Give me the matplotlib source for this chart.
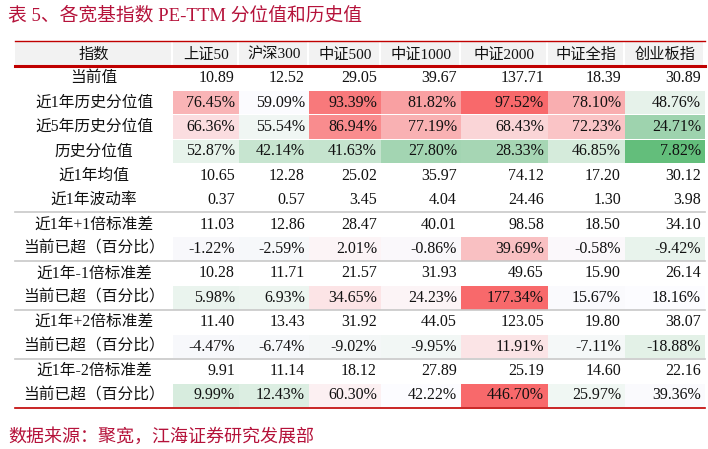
import matplotlib
matplotlib.use("Agg")
import matplotlib.pyplot as plt
from matplotlib.patches import Rectangle

title = "表 5、各宽基指数 PE-TTM 分位值和历史值"
source = "数据来源：聚宽，江海证券研究发展部"
columns = ["指数", "上证50", "沪深300", "中证500", "中证1000", "中证2000", "中证全指", "创业板指"]
row_labels = ["当前值", "近1年历史分位值", "近5年历史分位值", "历史分位值", "近1年均值", "近1年波动率",
              "近1年+1倍标准差", "当前已超（百分比）", "近1年-1倍标准差", "当前已超（百分比）",
              "近1年+2倍标准差", "当前已超（百分比）", "近1年-2倍标准差", "当前已超（百分比）"]
current = [10.89, 12.52, 29.05, 39.67, 137.71, 18.39, 30.89]
pct_1y = [76.45, 59.09, 93.39, 81.82, 97.52, 78.10, 48.76]
pct_5y = [66.36, 55.54, 86.94, 77.19, 68.43, 72.23, 24.71]
pct_all = [52.87, 42.14, 41.63, 27.80, 28.33, 46.85, 7.82]
mean_1y = [10.65, 12.28, 25.02, 35.97, 74.12, 17.20, 30.12]
vol_1y = [0.37, 0.57, 3.45, 4.04, 24.46, 1.30, 3.98]
plus1 = [11.03, 12.86, 28.47, 40.01, 98.58, 18.50, 34.10]
over_plus1 = [-1.22, -2.59, 2.01, -0.86, 39.69, -0.58, -9.42]
minus1 = [10.28, 11.71, 21.57, 31.93, 49.65, 15.90, 26.14]
over_minus1 = [5.98, 6.93, 34.65, 24.23, 177.34, 15.67, 18.16]
plus2 = [11.40, 13.43, 31.92, 44.05, 123.05, 19.80, 38.07]
over_plus2 = [-4.47, -6.74, -9.02, -9.95, 11.91, -7.11, -18.88]
minus2 = [9.91, 11.14, 18.12, 27.89, 25.19, 14.60, 22.16]
over_minus2 = [9.99, 12.43, 60.30, 42.22, 446.70, 25.97, 39.36]

rows = [current, pct_1y, pct_5y, pct_all, mean_1y, vol_1y, plus1, over_plus1,
        minus1, over_minus1, plus2, over_plus2, minus2, over_minus2]
is_pct = [False, True, True, True, False, False, False, True, False, True, False, True, False, True]

W = "#FFFFFF"
cell_colors = [
    [W]*7,
    ["#F9B4B6", "#FBFBFE", "#F8797B", "#F9A0A2", "#F8696B", "#F9AEB0", "#E6F2EA"],
    ["#FBDDE0", "#F0F6F3", "#F98C8E", "#F9B1B3", "#FAD5D7", "#FAC4C6", "#9ED3AE"],
    ["#E7F3EB", "#C7E5D0", "#C5E4CE", "#A3D5B2", "#A6D6B4", "#D5EBDB", "#63BE7B"],
    [W]*7, [W]*7, [W]*7,
    ["#F8F8FB", "#F6F8FA", "#FCF4F6", "#FAF8FB", "#F9C0C2", "#FBF8FB", "#E8F3EC"],
    [W]*7,
    ["#EAF4EE", "#EDF5F0", "#FCE4E6", "#FCF4F6", "#F8696B", "#FAFAFD", "#FCFCFF"],
    [W]*7,
    ["#F7F8FB", "#F6F8FA", "#F4F7F7", "#F2F7F5", "#FBE4E6", "#F5F8F8", "#E3F1E7"],
    [W]*7,
    ["#D7ECDE", "#DCEEE2", "#FCF0F2", "#FCFCFF", "#F8696B", "#F0F7F3", "#FAFAFD"],
]

FAM = ["Liberation Serif", "Noto Sans CJK SC", "DejaVu Sans"]
CJK = ["Noto Sans CJK SC", "DejaVu Sans"]
RED = "#C00000"
TITLE_RED = "#B5123A"

fig = plt.figure(figsize=(7.08, 4.49), dpi=100)
ax = fig.add_axes([0, 0, 1, 1])
ax.set_xlim(0, 708)
ax.set_ylim(449, 0)
ax.axis("off")

col_edges = [15, 173, 239, 309, 381, 461, 548, 625, 705]
top, head_bot = 41, 66
row_h = 24.4
ys = [head_bot + i * row_h for i in range(len(rows) + 1)]

ax.text(8, 15, title, fontsize=13.5, color=TITLE_RED, family=FAM, va="center", ha="left")

for j, name in enumerate(columns):
    x0, x1 = col_edges[j], col_edges[j + 1]
    ax.add_patch(Rectangle((x0, top), x1 - x0 - 2, head_bot - top, fc="#F2F2F2", ec="none"))
    ax.text((x0 + x1) / 2, (top + head_bot) / 2 + 1, name, fontsize=11, family=FAM,
            ha="center", va="center", color="#111111")
ax.plot([15, 705], [top, top], color=RED, lw=1.0)
ax.plot([15, 705], [head_bot, head_bot], color=RED, lw=2.2)

for i, (lab, vals) in enumerate(zip(row_labels, rows)):
    y0, y1 = ys[i], ys[i + 1]
    yc = (y0 + y1) / 2
    ax.text((col_edges[0] + col_edges[1]) / 2, yc, lab, fontsize=11.3, family=FAM,
            ha="center", va="center", color="#111111")
    for j, v in enumerate(vals):
        x0, x1 = col_edges[j + 1], col_edges[j + 2]
        c = cell_colors[i][j]
        if c != W:
            ax.add_patch(Rectangle((x0, y0 + 0.5), x1 - x0, y1 - y0 - 1, fc=c, ec="none"))
        s = f"{v:.2f}%" if is_pct[i] else f"{v:.2f}"
        ax.text(x1 - 4, yc, s, fontsize=11.5, family=FAM, ha="right", va="center", color="#111111")

for k in [6, 8, 10, 12]:
    ax.plot([15, 705], [ys[k], ys[k]], color="#C8C8C8", lw=1.2)
ax.plot([15, 705], [ys[-1], ys[-1]], color=RED, lw=1.2)

ax.text(8, 437, source, fontsize=13, color=TITLE_RED, family=CJK, va="center", ha="left")

fig.savefig("out.png", dpi=100)
